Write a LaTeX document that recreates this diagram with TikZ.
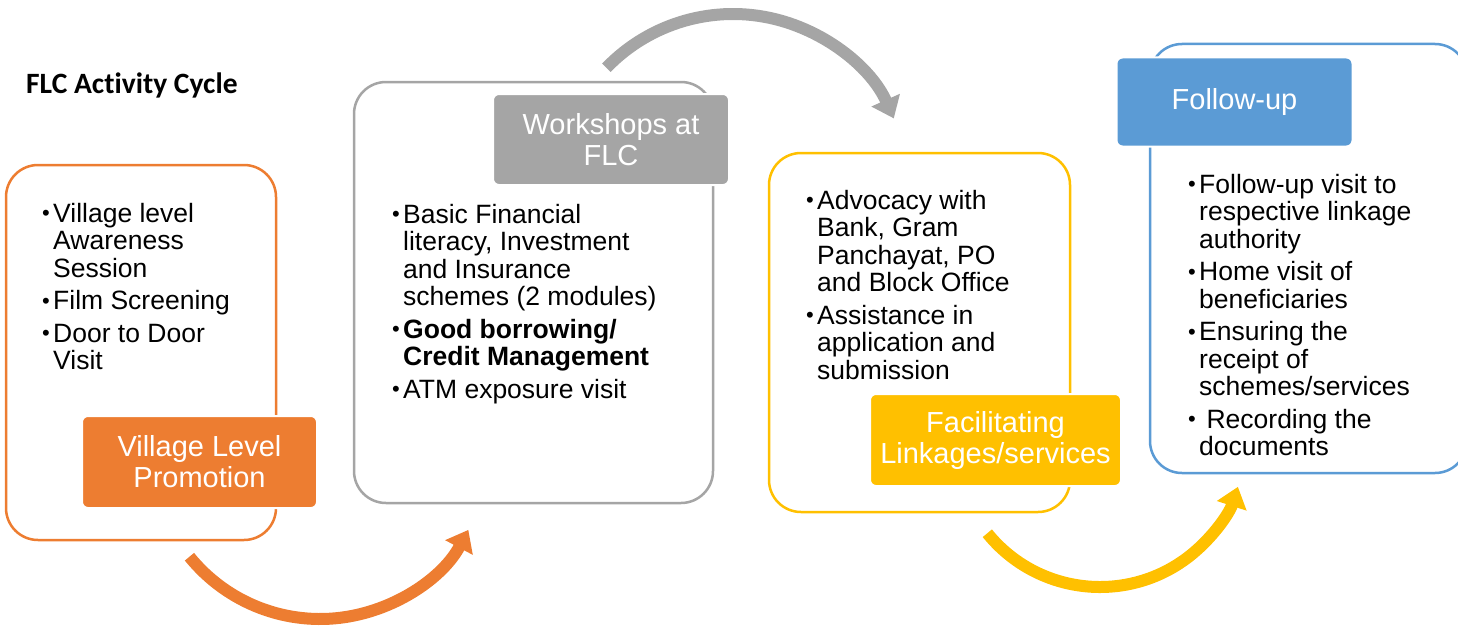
\documentclass[tikz,border=0pt]{standalone}
\usepackage{fontspec}
\setmainfont{Liberation Sans}
\newfontfamily\titlefont[Ligatures=NoCommon]{Carlito}
\usetikzlibrary{arrows.meta,calc}
\definecolor{cOrange}{HTML}{ED7D31}
\definecolor{cGray}{HTML}{A5A5A5}
\definecolor{cYellow}{HTML}{FFC000}
\definecolor{cBlue}{HTML}{5B9BD5}
\newcommand{\bul}{\makebox[11pt][l]{\raisebox{1.5pt}{\fontsize{22}{22}\selectfont\textbullet}}}
\newcommand{\bodyfont}{\fontsize{26.5}{27.5}\selectfont}
\newcommand{\labfont}{\fontsize{29}{31}\selectfont}
\begin{document}
\begin{tikzpicture}[x=1pt,y=-1pt,
  boxframe/.style={draw=#1, line width=2.5pt, rounded corners=32pt, inner sep=0pt, fill=white},
  tagbox/.style={fill=#1, draw=white, line width=2pt, rounded corners=6pt, text=white, font=\labfont, align=center, inner sep=0pt},
  bodytext/.style={anchor=base west, inner sep=0pt, font=\bodyfont},
  cyclearrow/.style={draw=#1, line width=12pt, -{Triangle[length=20pt,width=30pt]}}
]
\useasboundingbox (0,0) rectangle (1458,626);
\clip (0,0) rectangle (1458,626);

% title
\node[anchor=base west, inner sep=0pt, font=\titlefont\fontsize{29.5}{31}\selectfont\bfseries] (title) at (26,93) {FLC Activity Cycle};

% outline boxes
\node[boxframe=cOrange, minimum width=270pt, minimum height=375pt] (b1) at (141,352.5) {};
\node[boxframe=cGray, minimum width=359pt, minimum height=421pt] (b2) at (533.5,292.5) {};
\node[boxframe=cYellow, minimum width=301pt, minimum height=359pt] (b3) at (919.5,332.5) {};
\node[boxframe=cBlue, minimum width=317pt, minimum height=429pt] (b4) at (1308.5,258.5) {};

% body texts
\node[bodytext] (t1) at (42,222) {\begin{tabular}[t]{@{}l@{}l@{}}
\bul & Village level\\
 & Awareness\\
 & Session\\[5pt]
\bul & Film Screening\\[5pt]
\bul & Door to Door\\
 & Visit
\end{tabular}};

\node[bodytext] (t2) at (392,223) {\begin{tabular}[t]{@{}l@{}l@{}}
\bul & Basic Financial\\
 & literacy, Investment\\
 & and Insurance\\
 & schemes (2 modules)\\[5pt]
\bul & \textbf{Good borrowing/}\\
 & \textbf{Credit Management}\\[5pt]
\bul & ATM exposure visit
\end{tabular}};

\node[bodytext] (t3) at (806,209) {\begin{tabular}[t]{@{}l@{}l@{}}
\bul & Advocacy with\\
 & Bank, Gram\\
 & Panchayat, PO\\
 & and Block Office\\[5pt]
\bul & Assistance in\\
 & application and\\
 & submission
\end{tabular}};

\node[bodytext] (t4) at (1188,193) {\begin{tabular}[t]{@{}l@{}l@{}}
\bul & Follow-up visit to\\
 & respective linkage\\
 & authority\\[5pt]
\bul & Home visit of\\
 & beneficiaries\\[5pt]
\bul & Ensuring the\\
 & receipt of\\
 & schemes/services\\[5pt]
\bul & \ Recording the\\
 & documents
\end{tabular}};

% labels
\node[tagbox=cOrange, minimum width=235pt, minimum height=92pt] (l1) at (199.5,462) {Village Level\\Promotion};
\node[tagbox=cGray, minimum width=236pt, minimum height=91pt] (l2) at (611,139.5) {Workshops at\\FLC};
\node[tagbox=cYellow, minimum width=251pt, minimum height=92pt] (l3) at (995.5,440) {Facilitating\\Linkages/services};
\node[tagbox=cBlue, minimum width=236pt, minimum height=89pt] (l4) at (1234.5,102) {Follow-up};

% cycle arrows
\coordinate (oc) at (320,451);
\coordinate (gc) at (733,190);
\coordinate (yc) at (1100,442);
\draw[cyclearrow=cOrange] ($(oc)+(141:168)$) arc[start angle=141,end angle=28,radius=168];
\draw[cyclearrow=cGray] ($(gc)+(224:176)$) arc[start angle=224,end angle=336,radius=176];
\draw[cyclearrow=cYellow] ($(yc)+(141:145)$) arc[start angle=141,end angle=18,radius=145];
\end{tikzpicture}
\end{document}
